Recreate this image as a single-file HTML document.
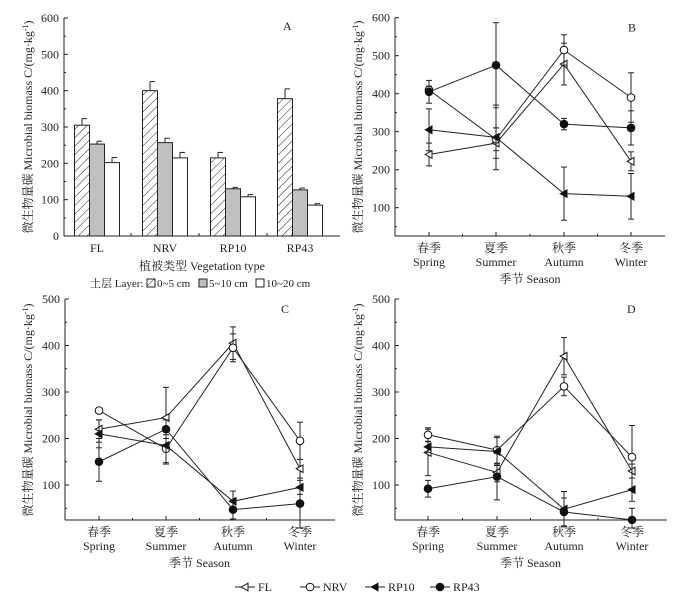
<!DOCTYPE html>
<html><head><meta charset="utf-8"><style>
body{margin:0;background:#fff}
svg text{font-family:"Liberation Serif","Noto Serif CJK SC",serif;fill:#222}
</style></head><body>
<svg id="chart" width="698" height="597" viewBox="0 0 698 597" xmlns="http://www.w3.org/2000/svg">
<defs><pattern id="hatch" patternUnits="userSpaceOnUse" width="6" height="6" patternTransform="rotate(45)"><line x1="0" y1="0" x2="0" y2="6" stroke="#222" stroke-width="1"/></pattern></defs>
</svg>
<script>
const NS="http://www.w3.org/2000/svg";
const svg=document.getElementById('chart');
function mk(tag,attrs,parent,txt){const e=document.createElementNS(NS,tag);for(const k in attrs)e.setAttribute(k,attrs[k]);if(txt!==undefined)e.textContent=txt;(parent||svg).appendChild(e);return e;}

// Panel A data
const vegCats=["FL","NRV","RP10","RP43"];
const layer0_5=[305,400,215,378];
const layer0_5Err=[18,25,15,27];
const layer5_10=[253,257,130,127];
const layer5_10Err=[8,12,4,5];
const layer10_20=[202,215,108,85];
const layer10_20Err=[14,15,6,4];
const aTicks=[0,100,200,300,400,500,600];

// Season data
const seasonCn=["春季","夏季","秋季","冬季"];
const seasonEn=["Spring","Summer","Autumn","Winter"];
const seriesNames=["FL","NRV","RP10","RP43"];
const bFL=[240,270,478,222], bFLe=[30,40,55,25];
const bNRV=[410,280,515,390], bNRVe=[10,30,40,65];
const bRP10=[305,285,137,130], bRP10e=[55,85,70,60];
const bRP43=[405,475,320,310], bRP43e=[30,112,15,45];
const cFL=[220,245,405,135], cFLe=[20,65,35,20];
const cNRV=[260,178,395,195], cNRVe=[5,30,30,40];
const cRP10=[210,185,65,95], cRP10e=[30,40,22,15];
const cRP43=[150,220,47,60], cRP43e=[42,20,20,55];
const dFL=[170,127,377,130], dFLe=[50,20,40,15];
const dNRV=[208,175,312,160], dNRVe=[15,30,20,68];
const dRP10=[182,172,48,90], dRP10e=[12,30,38,25];
const dRP43=[92,118,42,25], dRP43e=[18,50,30,25];
const bTicks=[100,200,300,400,500,600];
const cTicks=[100,200,300,400,500];

function yLabel(x,y){
  const t=mk('text',{x:x,y:y,'font-size':12,'text-anchor':'middle',transform:`rotate(-90 ${x} ${y})`});
  
  
  t.textContent='微生物量碳 Microbial biomass C/(mg·kg';
  mk('tspan',{'font-size':8,dy:-4},t,'-1');
  mk('tspan',{dy:4},t,')');
}

// ---------- Panel A ----------
(function(){
  const g=mk('g',{});
  const x0=64,x1=340,yb=236,yt=18,vmax=600;
  const ys=v=>yb-(v/vmax)*(yb-yt);
  const centers=[97,165,233,300];const bw=15;
  mk('line',{x1:x0,y1:yt,x2:x0,y2:yb,stroke:'#222'},g);
  mk('line',{x1:x0,y1:yb,x2:x1,y2:yb,stroke:'#222'},g);
  aTicks.forEach(v=>{const y=ys(v);mk('line',{x1:x0,y1:y,x2:x0+4,y2:y,stroke:'#222'},g);
    if(v<600)mk('line',{x1:x0,y1:ys(v+50),x2:x0+2,y2:ys(v+50),stroke:'#222'},g);
    const t=mk('text',{x:x0-5,y:y+4,'font-size':12,'text-anchor':'end'},g,v);});
  [131,199,267].forEach(x=>mk('line',{x1:x,y1:yb,x2:x,y2:yb-3,stroke:'#222'},g));
  const sets=[[layer0_5,layer0_5Err,'url(#hatch)'],[layer5_10,layer5_10Err,'#c0c0c0'],[layer10_20,layer10_20Err,'#fff']];
  vegCats.forEach((c,i)=>{
    sets.forEach((s,j)=>{
      const x=centers[i]-22.5+j*bw;const y=ys(s[0][i]);
      const r=mk('rect',{x:x,y:y,width:bw,height:yb-y,fill:s[2],stroke:'#222','stroke-width':1},g);
      
      const ye=ys(s[0][i]+s[1][i]);const cx=x+bw/2;
      mk('line',{x1:cx,y1:y,x2:cx,y2:ye,stroke:'#222'},g);
      mk('line',{x1:cx,y1:ye,x2:cx+5,y2:ye,stroke:'#222'},g);
    });
    const t=mk('text',{x:centers[i],y:252,'font-size':12,'text-anchor':'middle'},g,c);
  });
  const lab=mk('text',{x:283,y:30,'font-size':12},g,'A');
  const xl=mk('text',{x:202,y:270,'font-size':12,'text-anchor':'middle'},g,'植被类型 Vegetation type');
  const lg=mk('g',{},g);
  mk('text',{x:90,y:287,'font-size':11},lg,'土层 Layer:');
  mk('rect',{x:147,y:279,width:8,height:8,fill:'url(#hatch)',stroke:'#222'},lg);
  mk('text',{x:157,y:287,'font-size':11},lg,'0~5 cm');
  mk('rect',{x:199,y:279,width:8,height:8,fill:'#c0c0c0',stroke:'#222'},lg);
  mk('text',{x:209,y:287,'font-size':11},lg,'5~10 cm');
  mk('rect',{x:256,y:279,width:8,height:8,fill:'#fff',stroke:'#222'},lg);
  mk('text',{x:266,y:287,'font-size':11},lg,'10~20 cm');
  yLabel(32,127);
})();

function marker(g,type,x,y){
  let e;
  if(type===0||type===2){e=mk('polygon',{points:`${x-3.8},${y} ${x+3},${y-3.8} ${x+3},${y+3.8}`,fill:type===2?'#111':'#fff',stroke:'#111','stroke-width':1},g);}
  else{e=mk('circle',{cx:x,cy:y,r:3.8,fill:type===3?'#111':'#fff',stroke:'#111','stroke-width':1},g);}
  return e;
}

function linePanel(name,label,x0,x1,yb,vTop,yTop,vRef,yRef,vmin,ticks,cx,series,errs,labelX){
  const g=mk('g',{});
  const k=(yRef-yTop)/(vTop-vRef);
  const ys=v=>yRef-(v-vRef)*k;
  const yt=ys(vTop);
  mk('line',{x1:x0,y1:yt,x2:x0,y2:yb,stroke:'#222'},g);
  mk('line',{x1:x0,y1:yb,x2:x1,y2:yb,stroke:'#222'},g);
  ticks.forEach(v=>{const y=ys(v);mk('line',{x1:x0,y1:y,x2:x0+4,y2:y,stroke:'#222'},g);
    if(ys(v-50)<yb)mk('line',{x1:x0,y1:ys(v-50),x2:x0+2,y2:ys(v-50),stroke:'#222'},g);
    const t=mk('text',{x:x0-5,y:y+4,'font-size':12,'text-anchor':'end'},g,v);});
  cx.forEach((x,i)=>{mk('line',{x1:x,y1:yb,x2:x,y2:yb-4,stroke:'#222'},g);
    if(i<3)mk('line',{x1:(x+cx[i+1])/2,y1:yb,x2:(x+cx[i+1])/2,y2:yb-2,stroke:'#222'},g);
    const t1=mk('text',{x:x,y:yb+16,'font-size':12,'text-anchor':'middle'},g,seasonCn[i]);
    const t2=mk('text',{x:x,y:yb+30,'font-size':12,'text-anchor':'middle'},g,seasonEn[i]);});
  const xl=mk('text',{x:(cx[1]+cx[2])/2,y:yb+47,'font-size':12,'text-anchor':'middle'},g,'季节 Season');
  const pl=mk('text',{x:labelX,y:yt+14,'font-size':12},g,label);
  const clampY=v=>Math.min(yb+8,ys(v));
  series.forEach((s,si)=>{
    const sg=mk('g',{},g);
    const pts=s.map((v,i)=>`${cx[i]},${ys(v)}`).join(' ');
    mk('polyline',{points:pts,fill:'none',stroke:'#222','stroke-width':1},sg);
    s.forEach((v,i)=>{const e=errs[si][i];const yh=ys(v+e),yl=clampY(v-e);
      mk('line',{x1:cx[i],y1:yh,x2:cx[i],y2:yl,stroke:'#222'},sg);
      mk('line',{x1:cx[i]-3,y1:yh,x2:cx[i]+3,y2:yh,stroke:'#222'},sg);
      mk('line',{x1:cx[i]-3,y1:yl,x2:cx[i]+3,y2:yl,stroke:'#222'},sg);});
    s.forEach((v,i)=>{const m=marker(sg,si,cx[i],ys(v));
      
      });
  });
}
linePanel('panel-b','B',395,665,236,600,17.7,100,207.7,25,bTicks,[429,496,564,631],[bFL,bNRV,bRP10,bRP43],[bFLe,bNRVe,bRP10e,bRP43e],628);
yLabel(362,127);
linePanel('panel-c','C',65,335,520,500,299,100,485,25,cTicks,[99,166,233,300],[cFL,cNRV,cRP10,cRP43],[cFLe,cNRVe,cRP10e,cRP43e],281);
yLabel(32,410);
linePanel('panel-d','D',395,667,520,500,299,100,485,25,cTicks,[428,497,564,632],[dFL,dNRV,dRP10,dRP43],[dFLe,dNRVe,dRP10e,dRP43e],627);
yLabel(362,410);

(function(){
  const lg=mk('g',{});
  const xs=[235,300,365,430];
  seriesNames.forEach((n,i)=>{
    const x=xs[i];
    mk('line',{x1:x,y1:587,x2:x+20,y2:587,stroke:'#222'},lg);
    const m=marker(lg,i,x+10,587);
    
    
    const t=mk('text',{x:x+23,y:591,'font-size':12},lg,n);
    
    
  });
})();
</script>
</body></html>
